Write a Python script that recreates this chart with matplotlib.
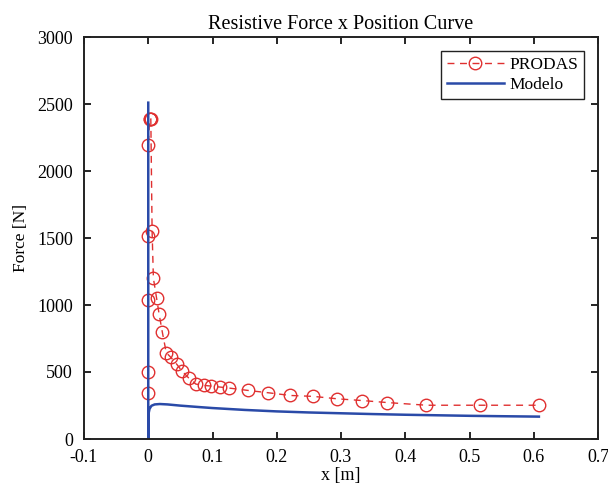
import matplotlib
matplotlib.use('Agg')
import matplotlib.pyplot as plt

# Fuente serif parecida a la del original.
plt.rcParams['font.family'] = ['Liberation Serif', 'DejaVu Serif']

# Datos PRODAS, en el orden en que se unen con la línea.
prodas_x = [0.000, 0.000, 0.000, 0.000, 0.000, 0.002, 0.003, 0.004,
            0.006, 0.008, 0.013, 0.017, 0.022, 0.028, 0.035, 0.044, 0.052, 0.063,
            0.074, 0.086, 0.098, 0.111, 0.126, 0.156, 0.187, 0.221, 0.257, 0.294,
            0.333, 0.372, 0.433, 0.517, 0.608]
prodas_y = [345, 500, 1035, 1515, 2195, 2390, 2390, 2390,
            1550, 1200, 1050, 930, 795, 645, 610, 560, 510, 455,
            410, 400, 395, 388, 380, 362, 345, 325, 318, 300,
            287, 272, 252, 252, 252]

# Curva del modelo.
modelo_x = [0, 0, 0.0005, 0.002, 0.005, 0.010, 0.018, 0.030, 0.050, 0.080, 0.100,
            0.150, 0.200, 0.250, 0.300, 0.350, 0.400, 0.450, 0.500, 0.550, 0.608]
modelo_y = [2510, 0, 190, 225, 248, 258, 261, 258, 249, 238, 231,
            217, 206, 198, 192, 186, 181, 177, 173, 170, 167]

fig = plt.figure(figsize=(6.08, 4.9), dpi=100)
ax = fig.add_axes([84 / 608, 1 - 439 / 490, (598 - 84) / 608, (439 - 37) / 490])

ax.plot(prodas_x, prodas_y, linestyle=(0, (5, 4)), color='#e03030', linewidth=1.0,
        marker='o', markersize=9, markerfacecolor='none', markeredgecolor='#e03030',
        markeredgewidth=1.0, label='PRODAS')
ax.plot(modelo_x, modelo_y, color='#2a4aa8', linewidth=1.8, label='Modelo')

ax.set_xlim(-0.1, 0.7)
ax.set_ylim(0, 3000)
ax.set_xticks([-0.1, 0, 0.1, 0.2, 0.3, 0.4, 0.5, 0.6, 0.7])
ax.set_xticklabels(['-0.1', '0', '0.1', '0.2', '0.3', '0.4', '0.5', '0.6', '0.7'])
ax.set_yticks(range(0, 3001, 500))
ax.tick_params(direction='in', top=True, right=True, labelsize=13, length=5, width=1.2)
ax.tick_params(axis='x', pad=7)
ax.tick_params(axis='y', pad=8)
for s in ax.spines.values():
    s.set_linewidth(1.4)
    s.set_color('#222222')

ax.set_title('Resistive Force x Position Curve', fontsize=14.5, pad=6)
ax.set_xlabel('x [m]', fontsize=13, labelpad=1)
ax.set_ylabel('Force [N]', fontsize=12.5, labelpad=6)

leg = ax.legend(loc='upper right', fontsize=12.5, fancybox=False, framealpha=1,
                edgecolor='#222222', handlelength=3.3, borderpad=0.35, labelspacing=0.2,
                handletextpad=0.3, borderaxespad=0.8)
leg.get_frame().set_linewidth(1.0)

fig.savefig('out.png', dpi=100)
